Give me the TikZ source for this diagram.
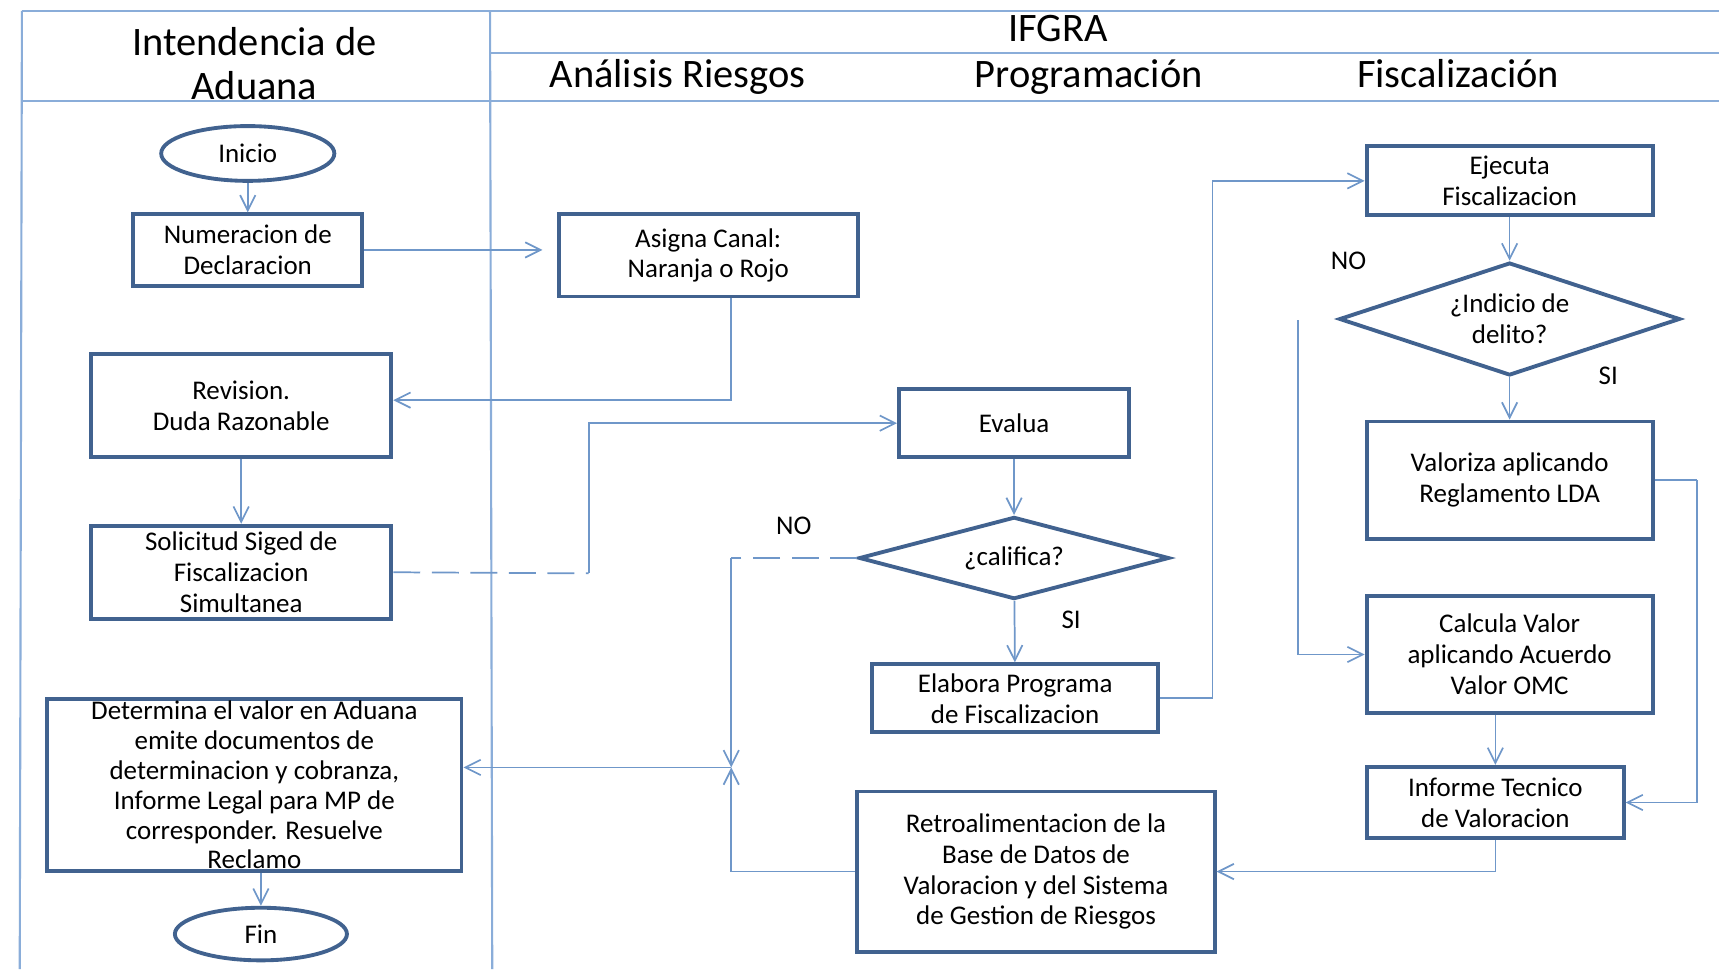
\documentclass[tikz,border=0pt]{standalone}
\usepackage{fontspec}
\setmainfont{Carlito}
\usetikzlibrary{shapes.geometric,arrows.meta}
\definecolor{boxblue}{HTML}{41628F}
\definecolor{lineblue}{HTML}{6F97C9}
\definecolor{laneblue}{HTML}{8AADD9}
\tikzset{
  proc/.style={rectangle, draw=boxblue, line width=2pt, align=center, inner sep=1pt,
    font=\fontsize{14}{16}\selectfont},
  term/.style={ellipse, draw=boxblue, line width=2pt, font=\fontsize{14}{16}\selectfont},
  decis/.style={diamond, draw=boxblue, line width=2pt, align=center, inner sep=0pt,
    aspect=3, font=\fontsize{14}{16}\selectfont},
  flow/.style={draw=lineblue, line width=0.9pt},
  lane/.style={draw=laneblue, line width=1.1pt},
  lanetitle/.style={align=center, anchor=base, font=\fontsize{21}{23}\selectfont},
  answer/.style={font=\fontsize{14}{16}\selectfont}
}
\begin{document}
\begin{tikzpicture}[x=0.02cm, y=-0.02cm, >={Straight Barb[length=2.8mm,width=2.8mm]}]
  \useasboundingbox (0,0) rectangle (1568,884);
  % lanes
  \draw [lane] (20,10) -- (1568,10);
  \draw [lane] (447,48) -- (1568,48);
  \draw [lane] (20,92) -- (1568,92);
  \draw [lane] (20,10) -- (18,884);
  \draw [lane] (447,10) -- (449,884);
  \node [lanetitle, anchor=center] (aduana) at (232,58) {Intendencia de\\Aduana};
  \node [lanetitle] (ifgra) at (965,38) {IFGRA};
  \node [lanetitle] (riesgos) at (618,80) {Análisis Riesgos};
  \node [lanetitle] (prog) at (993,80) {Programación};
  \node [lanetitle] (fisc) at (1330,80) {Fiscalización};

  % Intendencia de Aduana
  \node [term, minimum width=3.16cm, minimum height=1cm] (inicio) at (226,140) {Inicio};
  \node [proc, minimum width=4.18cm, minimum height=1.3cm] (numer) at (226,228) {Numeracion de\\Declaracion};
  \node [proc, minimum width=5.48cm, minimum height=1.88cm] (revis) at (220,370) {Revision.\\Duda Razonable};
  \node [proc, minimum width=5.48cm, minimum height=1.7cm, inner ysep=0pt] (solic) at (220,522) {Solicitud Siged de\\Fiscalizacion\\Simultanea};
  \node [proc, minimum width=7.56cm, minimum height=3.14cm, inner ysep=0pt,
    font=\fontsize{14}{15.5}\selectfont] (determ) at (232,716)
    {Determina el valor en Aduana\\emite documentos de\\determinacion y cobranza,\\Informe Legal para MP de\\corresponder. Resuelve\\Reclamo};
  \node [term, minimum width=3.14cm, minimum height=0.96cm] (fin) at (238,852) {Fin};

  % Analisis Riesgos / Programacion
  \node [proc, minimum width=5.46cm, minimum height=1.5cm] (asigna) at (646,233) {Asigna Canal:\\Naranja o Rojo};
  \node [proc, minimum width=4.2cm, minimum height=1.24cm] (evalua) at (925,386) {Evalua};
  \node [decis, minimum width=5.66cm, minimum height=1.5cm] (califica) at (925,509) {¿califica?};
  \node [proc, minimum width=5.22cm, minimum height=1.24cm] (elabora) at (926,637) {Elabora Programa\\de Fiscalizacion};
  \node [proc, minimum width=6.52cm, minimum height=2.92cm] (retro) at (945,795)
    {Retroalimentacion de la\\Base de Datos de\\Valoracion y del Sistema\\de Gestion de Riesgos};

  % Fiscalizacion
  \node [proc, minimum width=5.22cm, minimum height=1.26cm] (ejecuta) at (1377,165) {Ejecuta\\Fiscalizacion};
  \node [decis, minimum width=6.22cm, minimum height=2.06cm] (indicio) at (1377,291) {¿Indicio de\\delito?};
  \node [proc, minimum width=5.22cm, minimum height=2.14cm] (valoriza) at (1377,438) {Valoriza aplicando\\Reglamento LDA};
  \node [proc, minimum width=5.22cm, minimum height=2.12cm] (calcula) at (1377,597) {Calcula Valor\\aplicando Acuerdo\\Valor OMC};
  \node [proc, minimum width=4.68cm, minimum height=1.3cm] (informe) at (1364,732) {Informe Tecnico\\de Valoracion};

  % answers
  \node [answer] (nocal) at (724,480) {NO};
  \node [answer] (sical) at (977,565) {SI};
  \node [answer] (noind) at (1230,238) {NO};
  \node [answer] (siind) at (1467,343) {SI};

  \coordinate (sbend) at (537,523);
  \coordinate (nojoin) at (667,700);
  \coordinate (ebend) at (1106,637);
  \coordinate (nostart) at (1184,292);
  \coordinate (vbend) at (1548,438);

  % connectors
  \draw [flow, ->] (inicio) -- (numer);
  \draw [flow, ->, shorten >=0.26cm] (numer.east) -- (numer.east -| asigna.west);
  \draw [flow, ->] ([xshift=0.42cm]asigna.south) |- ([yshift=0.1cm]revis.east);
  \draw [flow, ->] (revis) -- (solic);
  \draw [flow, dashed, dash pattern=on 14pt off 6pt] (solic.east) -- (sbend);
  \draw [flow, ->] (sbend) |- (evalua.west);
  \draw [flow, ->] (evalua) -- (califica);
  \draw [flow, ->] (califica) -- (elabora);
  \draw [flow, dashed, dash pattern=on 14pt off 6pt] (califica.west) -- (califica.west -| nojoin);
  \draw [flow, ->] (califica.west -| nojoin) -- (nojoin);
  \draw [flow, ->] (retro.west) -| (nojoin);
  \draw [flow, ->] (nojoin) -- (nojoin -| determ.east);
  \draw [flow, ->] (determ.south -| fin.north) -- (fin.north);
  \draw [flow] (elabora.east) -- (ebend);
  \draw [flow, ->] (ebend) |- (ejecuta.west);
  \draw [flow, ->] (ejecuta) -- (indicio);
  \draw [flow, ->] (indicio) -- (valoriza);
  \draw [flow, ->] (nostart) |- (calcula.west);
  \draw [flow] (valoriza.east) -- (vbend);
  \draw [flow, ->] (vbend) |- (informe.east);
  \draw [flow, ->] (calcula.south -| informe.north) -- (informe.north);
  \draw [flow, ->] (informe.south) |- (retro.east);
\end{tikzpicture}
\end{document}
